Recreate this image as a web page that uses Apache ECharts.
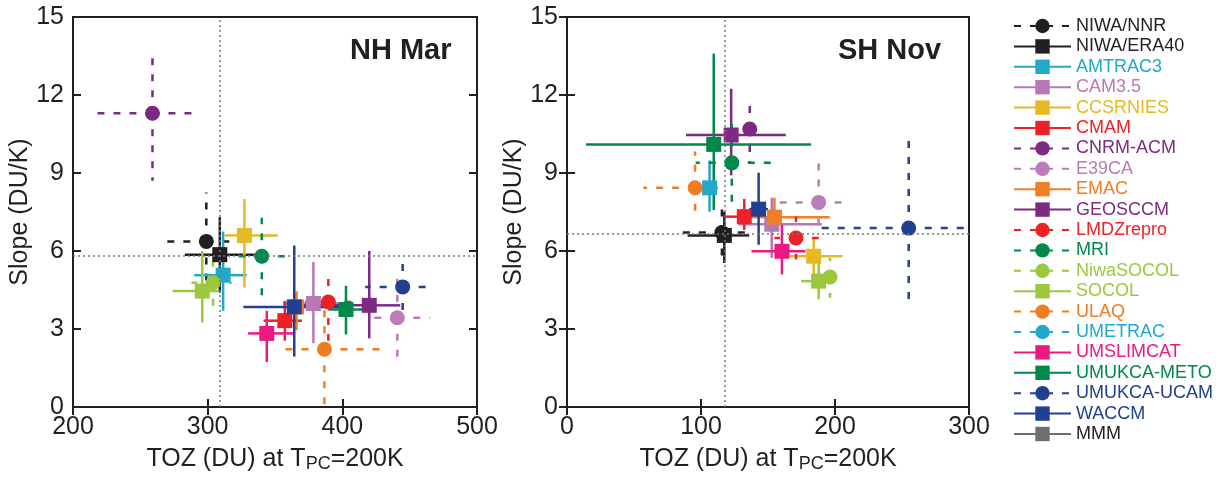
<!DOCTYPE html>
<html><head><meta charset="utf-8">
<script src="https://cdn.jsdelivr.net/npm/echarts@6/dist/echarts.min.js"></script>
<style>html,body{margin:0;padding:0;background:#fff}#c{width:1225px;height:478px}</style>
</head><body><div id="c"></div>
<script>
// ---------------- DATA ----------------
const models = ['NIWA/NNR','NIWA/ERA40','AMTRAC3','CAM3.5','CCSRNIES','CMAM','CNRM-ACM','E39CA','EMAC','GEOSCCM','LMDZrepro','MRI','NiwaSOCOL','SOCOL','ULAQ','UMETRAC','UMSLIMCAT','UMUKCA-METO','UMUKCA-UCAM','WACCM','MMM'];

// NH March panel: TOZ (DU) at TPC=200K and slope (DU/K) with error ranges
const nhX   = [299, 309, 311.5, 378.5, 327.3, 357.3, 259, 440.8, 366, 420, 389.6, 340.2, 304, 296, 386.7, null, 343.9, 402.7, 444.8, 364.3, null];
const nhXlo = [265, 283, 290, 356, 312.7, 341.5, 215, 417, 361, 362, 363, 316, 288, 274, 351, null, 330, 389.6, 417, 326.5, null];
const nhXhi = [332, 335, 329, 400, 352, 370, 294, 465, 372, 443, 409, 363, 318, 308, 434, null, 364, 423, 465, 402, null];
const nhY   = [6.37, 5.86, 5.07, 3.98, 6.6, 3.32, 11.3, 3.43, 3.85, 3.91, 4.04, 5.8, 4.78, 4.46, 2.22, null, 2.83, 3.75, 4.62, 3.85, null];
const nhYlo = [4.5, 4.4, 3.7, 2.45, 4.6, 2.55, 8.7, 1.83, 2.95, 2.64, 2.55, 4.2, 3.8, 3.25, 0, null, 1.73, 2.79, 3.65, 1.94, null];
const nhYhi = [8.25, 7.3, 6.75, 5.58, 8.0, 4.08, 13.6, 5.03, 4.45, 6.0, 5.16, 7.28, 5.8, 6.0, 3.85, null, 3.7, 4.66, 5.6, 6.21, null];

// SH November panel
const shX   = [115.6, 117.4, 106.4, 152.8, 184.1, 132.3, 136.4, 187.8, 154.8, 122.5, 170.9, 123, 196.3, 187.8, 95.6, null, 160.4, 109.5, 255, 143, null];
const shXlo = [82.6, 90, 101, 127.9, 162, 117.6, 131, 154.8, 137, 88.8, 154.8, 96, 190, 174.8, 57, null, 137.7, 14.2, 184, 136, null];
const shXhi = [137.7, 136, 112, 190.2, 205.6, 142.5, 142, 204.9, 196, 163.3, 187.8, 153.5, 203, 193.9, 118, null, 178, 182.2, 330, 150, null];
const shY   = [6.71, 6.6, 8.43, 7.03, 5.8, 7.32, 10.69, 7.87, 7.3, 10.46, 6.5, 9.39, 5.0, 4.84, 8.43, null, 5.99, 10.1, 6.88, 7.61, null];
const shYlo = [5.8, 5.54, 7.51, 5.73, 4.84, 6.81, 9.42, 6.69, 6.75, 8.91, 5.67, 7.77, 4.2, 4.14, 7.39, null, 5.1, 7.58, 3.83, 6.24, null];
const shYhi = [7.87, 7.51, 9.48, 8.05, 6.52, 8.0, 11.86, 9.55, 8.05, 12.24, 7.32, 11.0, 5.73, 5.6, 9.83, null, 7.0, 13.59, 10.31, 9.01, null];

// reference (dotted) lines: [TOZ, slope]
const refNH = [309, 5.8];
const refSH = [117.4, 6.66];

// axes
const nhXRange = [200, 500, 100];
const shXRange = [0, 300, 100];
const yRange = [0, 15, 3];
const panelLabels = ['NH Mar', 'SH Nov'];
const yTitle = 'Slope (DU/K)';
const xTitle = 'TOZ (DU) at T{sub|PC}=200K';

// ---------------- STYLE ----------------
const colors = ['#231f20','#231f20','#22a8c8','#b878b4','#e6b823','#ec2228','#7b2a82','#bb7cb8','#ef7e26','#7d2a82','#ec2228','#00894a','#9bc83d','#9bc83d','#ef7d24','#1ba9d0','#ea1a80','#00894a','#233f8f','#223f91','#6d6e71'];
const textColors = colors.slice(); textColors[20] = '#231f20';
const symbols = ['circle','rect','rect','rect','rect','rect','circle','circle','rect','rect','circle','circle','circle','rect','circle','circle','rect','rect','circle','rect','rect'];
const dashed  = [1,0,0,0,0,0,1,1,0,0,1,1,1,0,1,1,0,0,1,0,0];
const FONT = 'Liberation Sans, Arial, Helvetica, sans-serif';
const INK = '#231f20';
const DASH = [7, 9];
const LW = 2.5;

const chart = echarts.init(document.getElementById('c'), null, {renderer: 'canvas'});

function xAxes(gi, range, withName) {
  const base = {gridIndex: gi, type: 'value', min: range[0], max: range[1], interval: range[2],
    axisLine: {show: false}, splitLine: {show: false},
    axisTick: {inside: true, length: 8, lineStyle: {color: INK, width: 2}}};
  return [
    Object.assign({}, base, {position: 'bottom',
      axisLabel: {fontSize: 25, color: INK, margin: 8, fontFamily: FONT},
      name: xTitle, nameLocation: 'middle', nameGap: 38,
      nameTextStyle: {fontSize: 25, color: INK, fontFamily: FONT, lineHeight: 28,
        rich: {sub: {fontSize: 18, color: INK, fontFamily: FONT, lineHeight: 28, verticalAlign: 'bottom'}}}}),
    Object.assign({}, base, {position: 'top', axisLabel: {show: false}})
  ];
}
function yAxes(gi) {
  const base = {gridIndex: gi, type: 'value', min: yRange[0], max: yRange[1], interval: yRange[2],
    axisLine: {show: false}, splitLine: {show: false},
    axisTick: {inside: true, length: 8, lineStyle: {color: INK, width: 2}}};
  return [
    Object.assign({}, base, {position: 'left',
      axisLabel: {fontSize: 25, color: INK, margin: 9, fontFamily: FONT},
      name: yTitle, nameLocation: 'middle', nameGap: 36,
      nameTextStyle: {fontSize: 25, color: INK, fontFamily: FONT}}),
    Object.assign({}, base, {position: 'right', axisLabel: {show: false}})
  ];
}

const panels = [
  {X: nhX, Xlo: nhXlo, Xhi: nhXhi, Y: nhY, Ylo: nhYlo, Yhi: nhYhi, ref: refNH},
  {X: shX, Xlo: shXlo, Xhi: shXhi, Y: shY, Ylo: shYlo, Yhi: shYhi, ref: refSH}
];

const markerSeries = [];
const errorSeries = [];
models.forEach((m, i) => {
  panels.forEach((p, pi) => {
    const has = p.X[i] != null;
    if (!has && pi === 1) return;
    markerSeries.push({
      type: 'line', name: m, xAxisIndex: pi * 2, yAxisIndex: pi * 2,
      data: has ? [[p.X[i], p.Y[i]]] : [],
      symbol: symbols[i], symbolSize: 15, showSymbol: true,
      itemStyle: {color: colors[i]},
      lineStyle: {color: colors[i], width: LW, type: dashed[i] ? DASH : 'solid'},
      z: 4, animation: false, silent: true
    });
    if (has) {
      const col = colors[i], dsh = dashed[i];
      errorSeries.push({
        type: 'custom', name: m, xAxisIndex: pi * 2, yAxisIndex: pi * 2, z: 3,
        clip: true, silent: true, animation: false,
        data: [[p.X[i], p.Y[i], p.Xlo[i], p.Xhi[i], p.Ylo[i], p.Yhi[i]]],
        encode: {x: [0, 2, 3], y: [1, 4, 5]},
        renderItem: function (params, api) {
          const c = api.coord([api.value(0), api.value(1)]);
          const l = api.coord([api.value(2), api.value(1)]);
          const r = api.coord([api.value(3), api.value(1)]);
          const b = api.coord([api.value(0), api.value(4)]);
          const t = api.coord([api.value(0), api.value(5)]);
          const style = {stroke: col, lineWidth: LW, lineDash: dsh ? DASH : null, fill: null};
          const seg = (a) => ({type: 'line', shape: {x1: c[0], y1: c[1], x2: a[0], y2: a[1]}, style: style});
          const cs = params.coordSys;
          return {type: 'group', children: [seg(l), seg(r), seg(b), seg(t)],
            clipPath: {type: 'rect', shape: {x: cs.x, y: cs.y, width: cs.width, height: cs.height}}};
        }
      });
    }
  });
});

const refSeries = panels.map((p, pi) => ({
  type: 'line', name: 'ref' + pi, xAxisIndex: pi * 2, yAxisIndex: pi * 2, data: [],
  z: 2, silent: true, animation: false,
  markLine: {silent: true, symbol: 'none', animation: false, label: {show: false},
    lineStyle: {color: '#77787b', width: 1.5, type: [2, 3]},
    emphasis: {disabled: true},
    data: [{xAxis: p.ref[0]}, {yAxis: p.ref[1]}]}
}));

chart.setOption({
  animation: false,
  backgroundColor: '#fff',
  textStyle: {fontFamily: FONT},
  title: [
    {text: panelLabels[0], left: 350, top: 36, padding: 0, textStyle: {fontSize: 29, fontWeight: 'bold', color: INK, fontFamily: FONT}},
    {text: panelLabels[1], left: 838, top: 36, padding: 0, textStyle: {fontSize: 29, fontWeight: 'bold', color: INK, fontFamily: FONT}}
  ],
  grid: [
    {left: 73, top: 17, width: 404, height: 392, show: true, borderColor: INK, borderWidth: 2, backgroundColor: 'transparent'},
    {left: 567, top: 17, width: 402, height: 392, show: true, borderColor: INK, borderWidth: 2, backgroundColor: 'transparent'}
  ],
  xAxis: [...xAxes(0, nhXRange), ...xAxes(1, shXRange)],
  yAxis: [...yAxes(0), ...yAxes(1)],
  legend: {
    orient: 'vertical', left: 1013, top: 16, padding: 0,
    itemWidth: 57, itemHeight: 18, itemGap: 0.4, selectedMode: false,
    textStyle: {fontSize: 18, lineHeight: 20, fontFamily: FONT},
    data: models.map((m, i) => ({name: m, textStyle: {color: textColors[i]}}))
  },
  series: [...refSeries, ...markerSeries, ...errorSeries]
});
</script>
</body></html>
